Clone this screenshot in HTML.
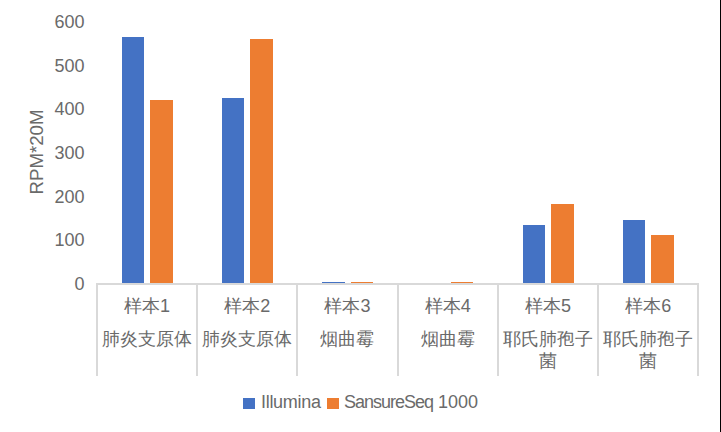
<!DOCTYPE html>
<html><head><meta charset="utf-8">
<style>
html,body{margin:0;padding:0;}
body{width:721px;height:432px;position:relative;overflow:hidden;background:#fff;font-family:"Liberation Sans",sans-serif;color:#6a6a6a;}
.a{position:absolute;}
.yl{position:absolute;right:636.5px;font-size:18px;line-height:20px;height:20px;white-space:nowrap;}
.bar{position:absolute;bottom:148px;}
.b{background:#4472c4;}
.o{background:#ed7d31;}
.div{position:absolute;top:283px;width:2px;height:93px;background:#d9d9d9;}
.cl{position:absolute;width:100px;text-align:center;font-size:18px;line-height:22px;white-space:nowrap;}
</style></head>
<body>
<!-- y axis labels -->
<div class="yl" style="top:12px">600</div>
<div class="yl" style="top:56px">500</div>
<div class="yl" style="top:99px">400</div>
<div class="yl" style="top:143px">300</div>
<div class="yl" style="top:187px">200</div>
<div class="yl" style="top:230px">100</div>
<div class="yl" style="top:274px">0</div>
<!-- y title -->
<div class="a" style="left:37px;top:152px;width:0;height:0;">
  <div class="a" style="left:-60px;top:-10px;width:120px;height:20px;line-height:20px;text-align:center;font-size:18.7px;transform:rotate(-90deg);white-space:nowrap;">RPM*20M</div>
</div>
<!-- bars -->
<div class="bar b" style="left:121.6px;width:22.47px;top:37px"></div>
<div class="bar o" style="left:150.14px;width:22.47px;top:100px"></div>
<div class="bar b" style="left:221.83px;width:22.47px;top:98px"></div>
<div class="bar o" style="left:250.37px;width:22.47px;top:39px"></div>
<div class="bar b" style="left:322.06px;width:22.47px;top:282px"></div>
<div class="bar o" style="left:350.6px;width:22.47px;top:282px"></div>
<div class="bar o" style="left:450.83px;width:22.47px;top:282px"></div>
<div class="bar b" style="left:522.52px;width:22.47px;top:225px"></div>
<div class="bar o" style="left:551.06px;width:22.47px;top:204px"></div>
<div class="bar b" style="left:622.75px;width:22.47px;top:220px"></div>
<div class="bar o" style="left:651.29px;width:22.47px;top:235px"></div>
<!-- axis -->
<div class="a" style="left:96px;top:283px;width:603px;height:2px;background:#d9d9d9"></div>
<div class="div" style="left:96px"></div>
<div class="div" style="left:196.23px"></div>
<div class="div" style="left:296.46px"></div>
<div class="div" style="left:396.69px"></div>
<div class="div" style="left:496.92px"></div>
<div class="div" style="left:597.15px"></div>
<div class="div" style="left:697.38px"></div>
<!-- category labels -->
<div class="cl" style="left:97px;top:294.5px">样本1</div>
<div class="cl" style="left:97px;top:328px">肺炎支原体</div>
<div class="cl" style="left:197.23px;top:294.5px">样本2</div>
<div class="cl" style="left:197.23px;top:328px">肺炎支原体</div>
<div class="cl" style="left:297.46px;top:294.5px">样本3</div>
<div class="cl" style="left:297.46px;top:328px">烟曲霉</div>
<div class="cl" style="left:397.69px;top:294.5px">样本4</div>
<div class="cl" style="left:397.69px;top:328px">烟曲霉</div>
<div class="cl" style="left:497.92px;top:294.5px">样本5</div>
<div class="cl" style="left:497.92px;top:328px">耶氏肺孢子</div>
<div class="cl" style="left:497.92px;top:350px">菌</div>
<div class="cl" style="left:598.15px;top:294.5px">样本6</div>
<div class="cl" style="left:598.15px;top:328px">耶氏肺孢子</div>
<div class="cl" style="left:598.15px;top:350px">菌</div>
<!-- legend -->
<div class="a" style="left:243px;top:398px;width:12px;height:11px;background:#4472c4"></div>
<div class="a" style="left:261px;top:392px;font-size:18px;line-height:20px;white-space:nowrap;letter-spacing:-0.3px">Illumina</div>
<div class="a" style="left:327px;top:398px;width:12px;height:11px;background:#ed7d31"></div>
<div class="a" style="left:344px;top:392px;font-size:18px;line-height:20px;white-space:nowrap;"><span style="letter-spacing:-1px">SansureSeq</span> 1000</div>
<!-- right edge line -->
<div class="a" style="left:720px;top:0;width:1px;height:432px;background:#000"></div>
</body></html>
